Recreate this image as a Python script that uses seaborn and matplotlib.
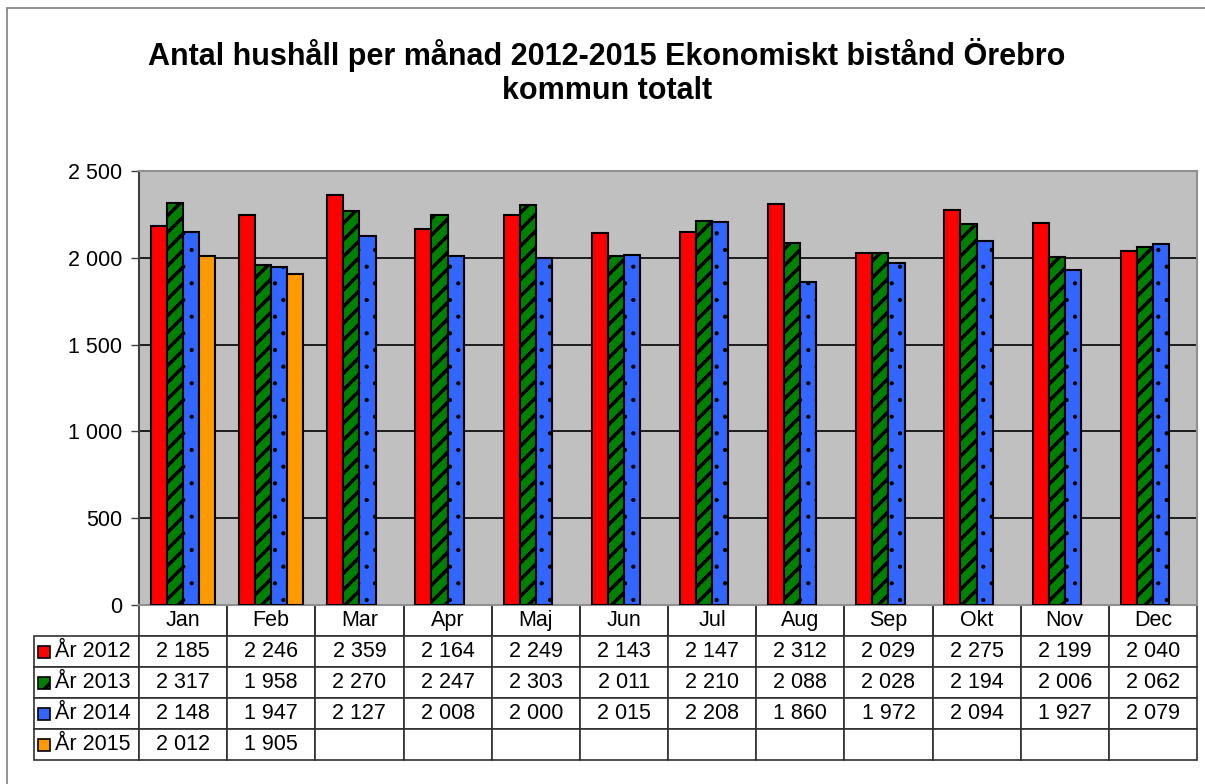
import matplotlib
matplotlib.use("Agg")
import matplotlib.pyplot as plt
import seaborn as sns
import pandas as pd
import numpy as np
from matplotlib.patches import Rectangle

months = ["Jan", "Feb", "Mar", "Apr", "Maj", "Jun", "Jul", "Aug", "Sep", "Okt", "Nov", "Dec"]
series = ["År 2012", "År 2013", "År 2014", "År 2015"]
y2012 = [2185, 2246, 2359, 2164, 2249, 2143, 2147, 2312, 2029, 2275, 2199, 2040]
y2013 = [2317, 1958, 2270, 2247, 2303, 2011, 2210, 2088, 2028, 2194, 2006, 2062]
y2014 = [2148, 1947, 2127, 2008, 2000, 2015, 2208, 1860, 1972, 2094, 1927, 2079]
y2015 = [2012, 1905, None, None, None, None, None, None, None, None, None, None]
colors = ["#FF0000", "#008000", "#3366FF", "#FF9900"]
hatches = ["", "//", ".", ""]
title = "Antal hushåll per månad 2012-2015 Ekonomiskt bistånd Örebro\nkommun totalt"
yticks = [0, 500, 1000, 1500, 2000, 2500]

sns.set_theme(style="white")
plt.rcParams["font.family"] = ["Liberation Sans", "DejaVu Sans"]
plt.rcParams["hatch.linewidth"] = 2.5
plt.rcParams["text.color"] = "black"
plt.rcParams["ytick.color"] = "black"

rows = []
for s, vals in zip(series, [y2012, y2013, y2014, y2015]):
    for m, v in zip(months, vals):
        rows.append({"Månad": m, "År": s, "Antal": np.nan if v is None else v})
df = pd.DataFrame(rows)

W, H = 1205, 784
fig = plt.figure(figsize=(W / 100, H / 100), dpi=100)
ax = fig.add_axes([139 / W, 1 - 605 / H, (1197 - 139) / W, (605 - 171) / H])
ax.set_facecolor("#C0C0C0")

sns.barplot(data=df, x="Månad", y="Antal", hue="År", order=months, hue_order=series,
            palette=colors, saturation=1, width=0.73, dodge=True, edgecolor="black",
            linewidth=1.5, legend=False, ax=ax, zorder=3)

cmap = {matplotlib.colors.to_hex(c): h for c, h in zip(colors, hatches)}
for p in ax.patches:
    hx = matplotlib.colors.to_hex(p.get_facecolor())
    if hx in cmap and cmap[hx]:
        p.set_hatch(cmap[hx])
        if cmap[hx] == "." and hasattr(p, "set_hatch_linewidth"):
            p.set_hatch_linewidth(0.6)

ax.set_ylim(0, 2500)
ax.set_xlim(-0.5, 11.5)
ax.set_yticks(yticks)
ax.set_yticklabels([f"{v:,}".replace(",", " ") for v in yticks], fontsize=15.5, color="black")
ax.yaxis.grid(True, color="black", linewidth=1.2, zorder=1)
ax.set_axisbelow(True)
ax.set_xticks([])
ax.set_xlabel("")
ax.set_ylabel("")
ax.tick_params(axis="y", which="major", length=6, width=1, color="#404040", direction="out", left=True, pad=6)
for side in ["top", "right", "bottom"]:
    ax.spines[side].set_color("#909090")
    ax.spines[side].set_linewidth(1.5)
ax.spines["left"].set_color("#404040")
ax.spines["left"].set_linewidth(1.5)

# data table
cell_text = [[""] + months]
for s, vals in zip(series, [y2012, y2013, y2014, y2015]):
    cell_text.append([""] + ["" if v is None else f"{v:,}".replace(",", " ") for v in vals])
axw = 1197 - 139
axh = 605 - 171
x0 = (34 - 139) / axw
y0 = (605 - 760) / axh
colw = [105] + [(1197 - 139) / 12] * 12
tot = sum(colw)
tbl = ax.table(cellText=cell_text, colWidths=[c / tot for c in colw],
               bbox=[x0, y0, (1197 - 34) / axw, (760 - 605) / axh], cellLoc="center")
tbl.auto_set_font_size(False)
for (r, c), cell in tbl.get_celld().items():
    cell.set_fontsize(15.5)
    cell.get_text().set_color("black")
    cell.set_linewidth(1.2)
    cell.set_edgecolor("#303030")
    cell.set_facecolor("white")
    if r == 0 and c == 0:
        cell.visible_edges = ""
    elif r == 0:
        cell.visible_edges = "LRB"

# legend keys and row labels
for i, (s, col, h) in enumerate(zip(series, colors, hatches)):
    cy = 636 + 31 * i + 15.5
    rect = Rectangle((38 / W, 1 - (cy + 6) / H), 12 / W, 12 / H, transform=fig.transFigure,
                     facecolor=col, edgecolor="black", linewidth=1.2, hatch=("/" if h == "//" else ""))
    fig.add_artist(rect)
    fig.text(55 / W, 1 - cy / H, s, ha="left", va="center", fontsize=15.5, color="black")

# outer chart border
fig.add_artist(Rectangle((7 / W, -0.01), 1.02, 1 - 8 / H + 0.01, transform=fig.transFigure,
                         fill=False, edgecolor="#808080", linewidth=1.2))

fig.text(607 / W, 1 - 72 / H, title, ha="center", va="center", fontsize=22, fontweight="bold",
         linespacing=1.15, color="black")

fig.savefig("out.png", dpi=100)
